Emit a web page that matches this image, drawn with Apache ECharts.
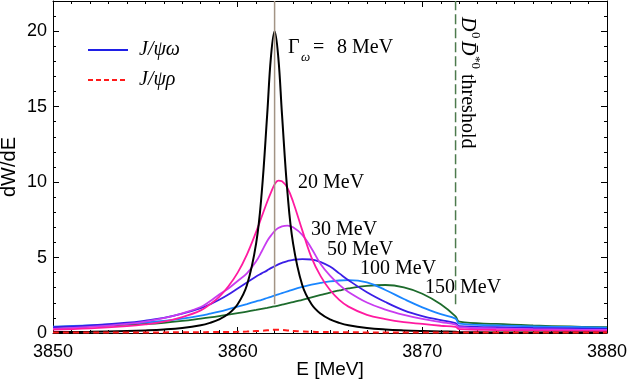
<!DOCTYPE html>
<html>
<head>
<meta charset="utf-8">
<script src="https://cdn.jsdelivr.net/npm/echarts@6/dist/echarts.min.js"></script>
<style>
  html, body { margin: 0; padding: 0; background: #fff; }
  #main { width: 628px; height: 382px; }
</style>
</head>
<body>
<div id="main"></div>
<script>
const myChart = echarts.init(document.querySelector('#main'))

// energy grid [MeV]
const energy = [3850, 3852, 3854, 3855, 3856, 3857, 3858, 3858.5, 3859, 3859.5,
  3860, 3860.5, 3861, 3861.3, 3861.6, 3861.8, 3862, 3862.2, 3862.4, 3862.7,
  3863, 3863.5, 3864, 3864.5, 3865, 3865.5, 3866, 3867, 3868, 3869,
  3870, 3871, 3871.8, 3872, 3874, 3876, 3878, 3880];

// dW/dE for J/psi omega, one array per omega width
const w8 = [0.06, 0.08, 0.13, 0.17, 0.23, 0.33, 0.51, 0.67, 0.9, 1.27,
  1.91, 3.16, 5.94, 9.26, 14.5, 18.27, 20, 18.27, 14.5, 9.26,
  5.94, 3.16, 1.91, 1.27, 0.9, 0.67, 0.51, 0.33, 0.23, 0.17,
  0.13, 0.1, 0.09, 0.05, 0.04, 0.03, 0.03, 0.02];
const w20 = [0.22, 0.3, 0.45, 0.57, 0.75, 1.05, 1.5, 1.9, 2.4, 3.1,
  4.0, 5.2, 6.7, 7.7, 8.7, 9.3, 9.85, 10.1, 10.05, 9.6,
  8.7, 6.8, 5.0, 3.75, 2.85, 2.2, 1.75, 1.2, 0.92, 0.72,
  0.6, 0.48, 0.4, 0.26, 0.2, 0.17, 0.15, 0.13];
const w30 = [0.28, 0.4, 0.6, 0.76, 0.98, 1.3, 1.72, 2.1, 2.55, 2.95,
  3.45, 3.95, 4.75, 5.4, 6.1, 6.45, 6.75, 6.95, 7.07, 7.12,
  7.0, 6.5, 5.6, 4.55, 3.8, 3.2, 2.72, 2.02, 1.55, 1.2,
  0.93, 0.72, 0.56, 0.38, 0.3, 0.25, 0.22, 0.2];
const w50 = [0.38, 0.5, 0.68, 0.82, 1.0, 1.28, 1.65, 1.9, 2.2, 2.55,
  2.95, 3.35, 3.75, 3.95, 4.15, 4.3, 4.42, 4.55, 4.65, 4.77,
  4.85, 4.9, 4.87, 4.7, 4.4, 3.95, 3.5, 2.7, 2.05, 1.5,
  1.12, 0.85, 0.65, 0.45, 0.38, 0.33, 0.3, 0.27];
const w100 = [0.42, 0.5, 0.62, 0.7, 0.8, 0.95, 1.15, 1.28, 1.42, 1.58,
  1.75, 1.92, 2.1, 2.2, 2.32, 2.4, 2.48, 2.56, 2.64, 2.76,
  2.88, 3.05, 3.2, 3.32, 3.42, 3.48, 3.5, 3.35, 2.85, 2.25,
  1.7, 1.25, 0.95, 0.62, 0.5, 0.43, 0.4, 0.36];
const w150 = [0.4, 0.45, 0.55, 0.6, 0.68, 0.8, 0.95, 1.03, 1.12, 1.22,
  1.32, 1.42, 1.53, 1.6, 1.67, 1.72, 1.77, 1.82, 1.88, 1.96,
  2.04, 2.2, 2.36, 2.52, 2.68, 2.82, 2.95, 3.12, 3.18, 3.02,
  2.6, 1.9, 1.1, 0.75, 0.6, 0.5, 0.43, 0.38];
// J/psi rho
const rho = [0.03, 0.03, 0.04, 0.04, 0.04, 0.05, 0.05, 0.06, 0.06, 0.07,
  0.08, 0.1, 0.13, 0.15, 0.18, 0.2, 0.21, 0.21, 0.2, 0.17,
  0.14, 0.1, 0.08, 0.07, 0.06, 0.05, 0.05, 0.04, 0.04, 0.04,
  0.03, 0.03, 0.03, 0.03, 0.03, 0.03, 0.03, 0.03];

const omegaMass = 3862;
const thresholdE = 3871.8;
const markerLow = 1.9;
const yTop = 22;

const widthLabels = ['20 MeV', '30 MeV', '50 MeV', '100 MeV', '150 MeV'];

const pairs = (ys) => energy.map((e, i) => [e, ys[i]]);

const serif = 'Liberation Serif';
const sans = 'Liberation Sans';

function curve(ys, color, width) {
  return {
    name: 'J/ψω',
    type: 'line',
    data: pairs(ys),
    smooth: 0.4,
    symbol: 'none',
    lineStyle: { color: color, width: width || 1.8 },
    itemStyle: { color: color },
    silent: true
  };
}

function vline(x, color, type) {
  return {
    type: 'line',
    data: [[x, markerLow], [x, yTop]],
    symbol: 'none',
    silent: true,
    z: 5,
    lineStyle: { color: color, width: 1.5, type: type }
  };
}

function txt(x, y, text, size, extra) {
  return {
    type: 'text', x: x, y: y, z: 100,
    style: Object.assign({
      text: text, fontFamily: serif, fontSize: size || 20, fill: '#000',
      align: 'left', verticalAlign: 'middle'
    }, extra || {})
  };
}

const axisCommon = {
  type: 'value',
  axisLine: { show: true, onZero: false, lineStyle: { color: '#000', width: 1 } },
  splitLine: { show: false }
};

option = {
  animation: false,
  grid: { left: 53, right: 21, top: 1, bottom: 49, containLabel: false, outerBoundsMode: 'none' },
  xAxis: [
    Object.assign({}, axisCommon, {
      min: 3850, max: 3880, interval: 10,
      name: 'E [MeV]', nameLocation: 'middle', nameGap: 27, nameMoveOverlap: false,
      nameTextStyle: { fontFamily: sans, fontSize: 19, color: '#000', verticalAlign: 'top' },
      axisTick: { inside: true, length: 6, lineStyle: { color: '#000' } },
      minorTick: { show: true, splitNumber: 10, length: 3, lineStyle: { color: '#000' } },
      axisLabel: { fontFamily: sans, fontSize: 18, color: '#000', margin: 10, formatter: v => String(v) }
    }),
    Object.assign({}, axisCommon, {
      position: 'top', min: 3850, max: 3880, interval: 10,
      axisTick: { inside: true, length: 6, lineStyle: { color: '#000' } },
      minorTick: { show: true, splitNumber: 10, length: 3, lineStyle: { color: '#000' } },
      axisLabel: { show: false }
    })
  ],
  yAxis: [
    Object.assign({}, axisCommon, {
      min: 0, max: yTop, interval: 5,
      name: 'dW/dE', nameLocation: 'middle', nameGap: 34, nameMoveOverlap: false,
      nameTextStyle: { fontFamily: sans, fontSize: 20, color: '#000' },
      axisTick: { inside: true, length: 6, lineStyle: { color: '#000' } },
      minorTick: { show: true, splitNumber: 5, length: 3, lineStyle: { color: '#000' } },
      axisLabel: { fontFamily: sans, fontSize: 18, color: '#000', margin: 6, showMaxLabel: false }
    }),
    Object.assign({}, axisCommon, {
      position: 'right', min: 0, max: yTop, interval: 5,
      axisTick: { inside: true, length: 6, lineStyle: { color: '#000' } },
      minorTick: { show: true, splitNumber: 5, length: 3, lineStyle: { color: '#000' } },
      axisLabel: { show: false }
    })
  ],
  legend: {
    left: 88, top: 40, orient: 'vertical', padding: 0,
    itemWidth: 40, itemHeight: 2, itemGap: 10,
    symbolKeepAspect: false,
    selectedMode: false,
    textStyle: { fontFamily: serif, fontSize: 20, fontStyle: 'italic', color: '#000', padding: [0, 0, 0, 6] },
    data: [
      { name: 'J/ψω', icon: 'path://M0,0H40V2H0Z', itemStyle: { color: '#1f1fe6' } },
      { name: 'J/ψρ', icon: 'path://M0,0H5V2H0Z M8,0H13V2H8Z M16,0H21V2H16Z M24,0H29V2H24Z M32,0H37V2H32Z M40,0H40V2H40Z', itemStyle: { color: '#ff1a1a' } }
    ]
  },
  series: [
    vline(thresholdE, '#4d7a4d', [10, 4]),
    curve(w150, '#1d6b2c'),
    curve(w100, '#1a86ff'),
    curve(w50, '#3a1ee6'),
    curve(w30, '#c83cf0'),
    curve(w20, '#ff1aa0'),
    curve(w8, '#000000', 2),
    {
      name: 'J/ψρ',
      type: 'line',
      data: pairs(rho),
      smooth: 0.4,
      symbol: 'none',
      silent: true,
      lineStyle: { color: '#ff1a1a', width: 2, type: [6, 4] },
      itemStyle: { color: '#ff1a1a' }
    },
    vline(omegaMass, '#a39485', 'solid')
  ],
  graphic: [
    txt(288, 48, 'Γ'),
    txt(301, 58, 'ω', 13, { fontStyle: 'italic' }),
    txt(313, 48, '='),
    txt(337, 48, '8 MeV'),
    txt(298, 183, widthLabels[0]),
    txt(311, 230, widthLabels[1]),
    txt(327, 250, widthLabels[2]),
    txt(360, 269, widthLabels[3]),
    txt(425, 288, widthLabels[4]),
    {
      type: 'group', x: 467, y: 17, rotation: -Math.PI / 2, z: 100,
      children: [
        txt(0, 0, 'D', 20, { fontStyle: 'italic' }),
        txt(15, -8, '0', 13),
        txt(24, 0, 'D\u0304', 20, { fontStyle: 'italic' }),
        txt(39, -8, '*0', 13),
        txt(57, 0, 'threshold', 20)
      ]
    }
  ]
};

option && myChart.setOption(option);
</script>
</body>
</html>
